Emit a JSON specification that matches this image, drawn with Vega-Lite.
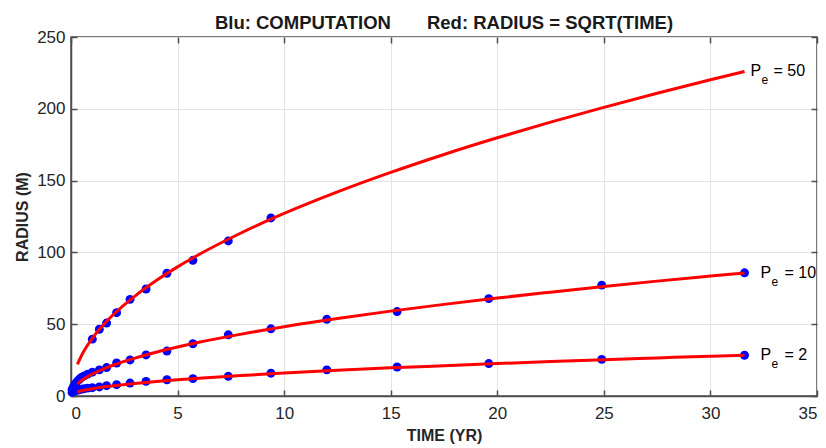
{
  "$schema": "https://vega.github.io/schema/vega-lite/v6.json",
  "width": 746,
  "height": 359,
  "autosize": {"type": "none"},
  "padding": {"left": 71, "top": 37, "right": 9, "bottom": 52},
  "background": "white",
  "title": {
    "text": "Blu: COMPUTATION\u00a0\u00a0\u00a0\u00a0\u00a0\u00a0 Red: RADIUS = SQRT(TIME)",
    "font": "Liberation Sans",
    "fontSize": 18.5,
    "fontWeight": "bold",
    "color": "#1a1a1a",
    "anchor": "middle",
    "offset": -4
  },
  "config": {
    "view": {"stroke": "#4d4d4d", "strokeWidth": 1.5},
    "axis": {
      "labelFont": "Liberation Sans",
      "labelFontSize": 17,
      "labelColor": "#262626",
      "titleFont": "Liberation Sans",
      "titleFontSize": 16,
      "titleFontWeight": "bold",
      "titleColor": "#262626",
      "domainColor": "#4d4d4d",
      "domainWidth": 1.5,
      "tickColor": "#4d4d4d",
      "tickSize": -6,
      "tickWidth": 1.5,
      "gridColor": "#e3e3e3",
      "gridWidth": 1
    }
  },
  "datasets": {
    "computed": [
      {"pe": 50, "t": 1.0, "r": 39.6}, {"pe": 50, "t": 1.33, "r": 46.5}, {"pe": 50, "t": 1.67, "r": 50.8},
      {"pe": 50, "t": 2.14, "r": 58.0}, {"pe": 50, "t": 2.77, "r": 67.3}, {"pe": 50, "t": 3.52, "r": 74.5},
      {"pe": 50, "t": 4.5, "r": 85.5}, {"pe": 50, "t": 5.72, "r": 94.5}, {"pe": 50, "t": 7.38, "r": 108.0},
      {"pe": 50, "t": 9.38, "r": 124.0},
      {"pe": 10, "t": 0.05, "r": 4.5}, {"pe": 10, "t": 0.1, "r": 6.0}, {"pe": 10, "t": 0.16, "r": 7.5},
      {"pe": 10, "t": 0.23, "r": 9.0}, {"pe": 10, "t": 0.31, "r": 10.5}, {"pe": 10, "t": 0.4, "r": 11.8},
      {"pe": 10, "t": 0.5, "r": 13.0}, {"pe": 10, "t": 0.62, "r": 14.0}, {"pe": 10, "t": 0.78, "r": 15.2},
      {"pe": 10, "t": 1.0, "r": 16.6}, {"pe": 10, "t": 1.33, "r": 18.2}, {"pe": 10, "t": 1.67, "r": 19.8},
      {"pe": 10, "t": 2.14, "r": 23.0}, {"pe": 10, "t": 2.77, "r": 25.1}, {"pe": 10, "t": 3.52, "r": 28.6},
      {"pe": 10, "t": 4.5, "r": 31.3}, {"pe": 10, "t": 5.72, "r": 36.4}, {"pe": 10, "t": 7.38, "r": 42.6},
      {"pe": 10, "t": 9.38, "r": 46.8}, {"pe": 10, "t": 12.0, "r": 53.4}, {"pe": 10, "t": 15.3, "r": 58.8},
      {"pe": 10, "t": 19.6, "r": 67.8}, {"pe": 10, "t": 24.9, "r": 77.2}, {"pe": 10, "t": 31.6, "r": 85.8},
      {"pe": 2, "t": 0.05, "r": 2.5}, {"pe": 2, "t": 0.1, "r": 3.0}, {"pe": 2, "t": 0.16, "r": 3.4},
      {"pe": 2, "t": 0.23, "r": 3.8}, {"pe": 2, "t": 0.31, "r": 4.1}, {"pe": 2, "t": 0.4, "r": 4.4},
      {"pe": 2, "t": 0.5, "r": 4.8}, {"pe": 2, "t": 0.62, "r": 5.1}, {"pe": 2, "t": 0.78, "r": 5.5},
      {"pe": 2, "t": 1.0, "r": 5.8}, {"pe": 2, "t": 1.33, "r": 6.3}, {"pe": 2, "t": 1.67, "r": 7.2},
      {"pe": 2, "t": 2.14, "r": 7.9}, {"pe": 2, "t": 2.77, "r": 9.0}, {"pe": 2, "t": 3.52, "r": 10.2},
      {"pe": 2, "t": 4.5, "r": 11.3}, {"pe": 2, "t": 5.72, "r": 12.1}, {"pe": 2, "t": 7.38, "r": 13.7},
      {"pe": 2, "t": 9.38, "r": 15.9}, {"pe": 2, "t": 12.0, "r": 18.2}, {"pe": 2, "t": 15.3, "r": 20.2},
      {"pe": 2, "t": 19.6, "r": 22.6}, {"pe": 2, "t": 24.9, "r": 25.5}, {"pe": 2, "t": 31.6, "r": 28.4}
    ],
    "sqrtfit": [
      {"pe": 50, "t": 0.3, "r": 22.0}, {"pe": 50, "t": 0.5, "r": 28.4}, {"pe": 50, "t": 0.75, "r": 34.8},
      {"pe": 50, "t": 1, "r": 40.2}, {"pe": 50, "t": 1.5, "r": 49.2}, {"pe": 50, "t": 2, "r": 56.9},
      {"pe": 50, "t": 3, "r": 69.6}, {"pe": 50, "t": 4, "r": 80.4}, {"pe": 50, "t": 5, "r": 89.9},
      {"pe": 50, "t": 6, "r": 98.5}, {"pe": 50, "t": 8, "r": 113.7}, {"pe": 50, "t": 10, "r": 127.1},
      {"pe": 50, "t": 12.5, "r": 142.1}, {"pe": 50, "t": 15, "r": 155.7}, {"pe": 50, "t": 17.5, "r": 168.2},
      {"pe": 50, "t": 20, "r": 179.8}, {"pe": 50, "t": 22.5, "r": 190.7}, {"pe": 50, "t": 25, "r": 201.0},
      {"pe": 50, "t": 27.5, "r": 210.8}, {"pe": 50, "t": 30, "r": 220.2}, {"pe": 50, "t": 31.6, "r": 226.0},
      {"pe": 10, "t": 0.3, "r": 8.4}, {"pe": 10, "t": 0.5, "r": 10.8}, {"pe": 10, "t": 0.75, "r": 13.2},
      {"pe": 10, "t": 1, "r": 15.3}, {"pe": 10, "t": 1.5, "r": 18.7}, {"pe": 10, "t": 2, "r": 21.6},
      {"pe": 10, "t": 3, "r": 26.4}, {"pe": 10, "t": 4, "r": 30.5}, {"pe": 10, "t": 5, "r": 34.1},
      {"pe": 10, "t": 6, "r": 37.4}, {"pe": 10, "t": 8, "r": 43.1}, {"pe": 10, "t": 10, "r": 48.2},
      {"pe": 10, "t": 12.5, "r": 53.9}, {"pe": 10, "t": 15, "r": 59.1}, {"pe": 10, "t": 17.5, "r": 63.8},
      {"pe": 10, "t": 20, "r": 68.2}, {"pe": 10, "t": 22.5, "r": 72.3}, {"pe": 10, "t": 25, "r": 76.3},
      {"pe": 10, "t": 27.5, "r": 80.0}, {"pe": 10, "t": 30, "r": 83.5}, {"pe": 10, "t": 31.6, "r": 85.7},
      {"pe": 2, "t": 0.3, "r": 2.8}, {"pe": 2, "t": 0.5, "r": 3.6}, {"pe": 2, "t": 0.75, "r": 4.4},
      {"pe": 2, "t": 1, "r": 5.1}, {"pe": 2, "t": 1.5, "r": 6.2}, {"pe": 2, "t": 2, "r": 7.1},
      {"pe": 2, "t": 3, "r": 8.7}, {"pe": 2, "t": 4, "r": 10.1}, {"pe": 2, "t": 5, "r": 11.3},
      {"pe": 2, "t": 6, "r": 12.4}, {"pe": 2, "t": 8, "r": 14.3}, {"pe": 2, "t": 10, "r": 16.0},
      {"pe": 2, "t": 12.5, "r": 17.9}, {"pe": 2, "t": 15, "r": 19.6}, {"pe": 2, "t": 17.5, "r": 21.1},
      {"pe": 2, "t": 20, "r": 22.6}, {"pe": 2, "t": 22.5, "r": 24.0}, {"pe": 2, "t": 25, "r": 25.3},
      {"pe": 2, "t": 27.5, "r": 26.5}, {"pe": 2, "t": 30, "r": 27.7}, {"pe": 2, "t": 31.6, "r": 28.4}
    ],
    "labels": [
      {"pe": 50, "t": 31.6, "r": 226.0, "sym": "P", "sub": "e", "eq": "= 50"},
      {"pe": 10, "t": 31.6, "r": 85.7, "sym": "P", "sub": "e", "eq": "= 10"},
      {"pe": 2, "t": 31.6, "r": 28.4, "sym": "P", "sub": "e", "eq": "= 2"}
    ]
  },
  "resolve": {"axis": {"x": "independent", "y": "independent"}},
  "layer": [
    {
      "data": {"name": "computed"},
      "mark": {"type": "point", "shape": "circle", "filled": true, "size": 80, "color": "#0000ff", "opacity": 1},
      "encoding": {
        "x": {
          "field": "t", "type": "quantitative",
          "scale": {"domain": [0, 35], "nice": false},
          "axis": {"values": [0, 5, 10, 15, 20, 25, 30, 35], "title": "TIME (YR)", "grid": true, "labelPadding": 15, "titlePadding": 6}
        },
        "y": {
          "field": "r", "type": "quantitative",
          "scale": {"domain": [0, 250], "nice": false},
          "axis": {"values": [0, 50, 100, 150, 200, 250], "title": "RADIUS (M)", "grid": true, "labelPadding": 12, "titlePadding": 6}
        }
      }
    },
    {
      "data": {"name": "sqrtfit"},
      "mark": {"type": "line", "color": "#ff0000", "strokeWidth": 3, "interpolate": "monotone"},
      "encoding": {
        "x": {"field": "t", "type": "quantitative", "axis": {"orient": "top", "values": [0, 5, 10, 15, 20, 25, 30, 35], "labels": false, "title": null, "grid": false, "domain": false}},
        "y": {"field": "r", "type": "quantitative", "axis": {"orient": "right", "values": [0, 50, 100, 150, 200, 250], "labels": false, "title": null, "grid": false, "domain": false}},
        "detail": {"field": "pe", "type": "nominal"}
      }
    },
    {
      "data": {"name": "labels"},
      "transform": [{"filter": "datum.pe == 50"}],
      "mark": {"type": "text", "align": "left", "baseline": "middle", "dx": 6, "font": "Liberation Sans", "fontSize": 16, "color": "#000000"},
      "encoding": {
        "x": {"field": "t", "type": "quantitative", "axis": null},
        "y": {"field": "r", "type": "quantitative", "axis": null},
        "text": {"field": "sym"}
      }
    },
    {
      "data": {"name": "labels"},
      "transform": [{"filter": "datum.pe == 50"}],
      "mark": {"type": "text", "align": "left", "baseline": "middle", "dx": 17, "dy": 9, "font": "Liberation Sans", "fontSize": 12, "color": "#000000"},
      "encoding": {
        "x": {"field": "t", "type": "quantitative", "axis": null},
        "y": {"field": "r", "type": "quantitative", "axis": null},
        "text": {"field": "sub"}
      }
    },
    {
      "data": {"name": "labels"},
      "transform": [{"filter": "datum.pe == 50"}],
      "mark": {"type": "text", "align": "left", "baseline": "middle", "dx": 29, "font": "Liberation Sans", "fontSize": 16, "color": "#000000", "clip": true},
      "encoding": {
        "x": {"field": "t", "type": "quantitative", "axis": null},
        "y": {"field": "r", "type": "quantitative", "axis": null},
        "text": {"field": "eq"}
      }
    },
    {
      "data": {"name": "labels"},
      "transform": [{"filter": "datum.pe != 50"}],
      "mark": {"type": "text", "align": "left", "baseline": "middle", "dx": 16, "font": "Liberation Sans", "fontSize": 16, "color": "#000000"},
      "encoding": {
        "x": {"field": "t", "type": "quantitative", "axis": null},
        "y": {"field": "r", "type": "quantitative", "axis": null},
        "text": {"field": "sym"}
      }
    },
    {
      "data": {"name": "labels"},
      "transform": [{"filter": "datum.pe != 50"}],
      "mark": {"type": "text", "align": "left", "baseline": "middle", "dx": 27, "dy": 9, "font": "Liberation Sans", "fontSize": 12, "color": "#000000"},
      "encoding": {
        "x": {"field": "t", "type": "quantitative", "axis": null},
        "y": {"field": "r", "type": "quantitative", "axis": null},
        "text": {"field": "sub"}
      }
    },
    {
      "data": {"name": "labels"},
      "transform": [{"filter": "datum.pe != 50"}],
      "mark": {"type": "text", "align": "left", "baseline": "middle", "dx": 40, "font": "Liberation Sans", "fontSize": 16, "color": "#000000", "clip": true},
      "encoding": {
        "x": {"field": "t", "type": "quantitative", "axis": null},
        "y": {"field": "r", "type": "quantitative", "axis": null},
        "text": {"field": "eq"}
      }
    }
  ]
}
